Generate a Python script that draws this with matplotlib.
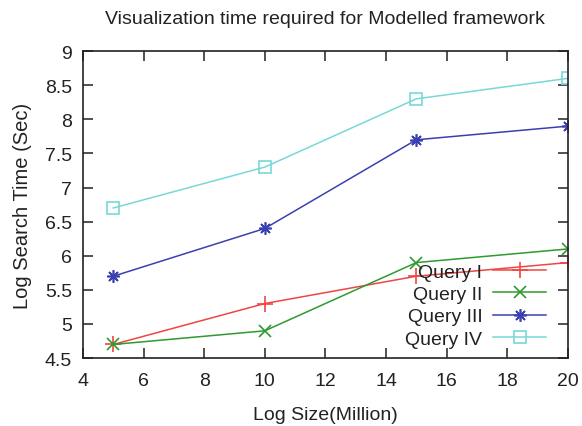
import matplotlib
matplotlib.use("Agg")
import matplotlib.pyplot as plt

sizes = [5, 10, 15, 20]
query1 = [4.7, 5.3, 5.7, 5.9]
query2 = [4.7, 4.9, 5.9, 6.1]
query3 = [5.7, 6.4, 7.7, 7.9]
query4 = [6.7, 7.3, 8.3, 8.6]
labels = ["Query I", "Query II", "Query III", "Query IV"]
xticks = [4, 6, 8, 10, 12, 14, 16, 18, 20]
yticks = [4.5, 5, 5.5, 6, 6.5, 7, 7.5, 8, 8.5, 9]

plt.rcParams['font.family'] = ['Liberation Sans', 'DejaVu Sans']
fig = plt.figure(figsize=(5.82, 4.27), dpi=100)
ax = fig.add_axes([0.1426, 0.159, 0.833, 0.719])

ax.plot(sizes, query1, color='#f04545', marker='+', markersize=11, mew=1.2, lw=1.1, label=labels[0])
ax.plot(sizes, query2, color='#2f9a2f', marker='x', markersize=8, mew=1.2, lw=1.1, label=labels[1])
ax.plot(sizes, query3, color='#3a40b0', marker=(8, 2, 0), markersize=9, mew=1.2, lw=1.1, label=labels[2])
ax.plot(sizes, query4, color='#78d8d8', marker='s', markersize=9, mfc='none', mew=1.2, lw=1.1, label=labels[3])

ax.set_xlim(4, 20)
ax.set_ylim(4.5, 9)
ax.set_xticks(xticks)
ax.set_yticks(yticks)
ax.set_xticklabels([str(v) for v in xticks])
ax.set_yticklabels([('%g' % v) for v in yticks])
ax.tick_params(direction='in', top=True, right=True, length=7.5, width=1.1,
               labelsize=14, colors='#222222')
ax.tick_params(axis='x', pad=10)
ax.tick_params(axis='y', pad=8)
for s in ax.spines.values():
    s.set_linewidth(1.2)
    s.set_color('#222222')

ax.set_xlabel("Log Size(Million)", fontsize=14, color='#222222', labelpad=12)
ax.set_ylabel("Log Search Time (Sec)", fontsize=14.5, color='#222222', labelpad=9)
ax.set_title("Visualization time required for Modelled framework", fontsize=14, color='#222222', pad=20)

leg = ax.legend(loc='lower right', markerfirst=False, frameon=False, fontsize=14,
                handlelength=2.75, labelspacing=0.24, borderaxespad=0.0, handletextpad=0.55,
                bbox_to_anchor=(0.972, 0.0085))
for t in leg.get_texts():
    t.set_ha('right')
    t.set_color('#222222')

fig.savefig("out.png", dpi=100)
